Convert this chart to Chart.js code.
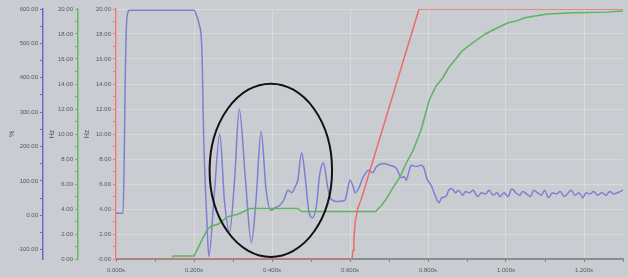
<!DOCTYPE html>
<html>
<head>
<meta charset="utf-8">
<script src="https://cdn.jsdelivr.net/npm/chart.js@4.4.1/dist/chart.umd.min.js"></script>
<style>
  html, body { margin: 0; padding: 0; background: #c9ccd0; }
  #wrap { width: 628px; height: 277px; }
</style>
</head>
<body>
<div id="wrap"><canvas id="c" width="628" height="277"></canvas></div>
<script>
// ---- tick values ----
const timeMajor = [0, 0.2, 0.4, 0.6, 0.8, 1.0, 1.2];
const timeMinor = [0.1, 0.3, 0.5, 0.7, 0.9, 1.1, 1.3];
const pctMajor = [-100, 0, 100, 200, 300, 400, 500, 600];
const pctMinor = [-50, 50, 150, 250, 350, 450, 550];
const hzMajor = [0, 2, 4, 6, 8, 10, 12, 14, 16, 18, 20];
const hzMinor = [1, 3, 5, 7, 9, 11, 13, 15, 17, 19];

// ---- blue series (Hz) ----
const blueTime = [0, 0.018, 0.021, 0.024, 0.028, 0.035, 0.200, 0.206, 0.213, 0.220, 0.225, 0.233, 0.238, 0.251, 0.266, 0.278, 0.291, 0.304, 0.316, 0.332, 0.347, 0.359, 0.372, 0.385, 0.397, 0.408, 0.420, 0.430, 0.441, 0.451, 0.458, 0.466, 0.476, 0.486, 0.494, 0.504, 0.514, 0.522, 0.532, 0.542, 0.549, 0.567, 0.587, 0.592, 0.600, 0.608, 0.613, 0.623, 0.633, 0.648, 0.658, 0.668, 0.686, 0.701, 0.719, 0.732, 0.739, 0.744, 0.752, 0.757, 0.770, 0.782, 0.790, 0.797, 0.808, 0.818, 0.828, 0.835, 0.846, 0.853,
  0.861, 0.871, 0.878, 0.889, 0.896, 0.906, 0.916, 0.927, 0.937, 0.947, 0.957, 0.967, 0.977, 0.985, 0.995, 1.005, 1.015, 1.025, 1.035, 1.043, 1.053, 1.063, 1.071, 1.081, 1.091, 1.099, 1.109, 1.119, 1.129, 1.139, 1.149, 1.157, 1.167, 1.177, 1.187, 1.197, 1.205, 1.215, 1.225, 1.235, 1.246, 1.256, 1.266, 1.276, 1.286, 1.300];
const blueHz = [3.67, 3.67, 8, 15, 19.3, 19.9, 19.9, 19.5, 18.8, 16.9, 9.5, 3.1, 0.2, 4.7, 10.0, 4.7, 2.15, 6.3, 12.0, 6.3, 1.3, 4.7, 10.2, 5.5, 3.9, 4.1, 4.3, 4.7, 5.5, 5.3, 5.7, 6.3, 8.5, 6.3, 3.9, 3.3, 4.3, 6.7, 7.7, 5.9, 4.9, 4.6, 4.7, 5.3, 6.3, 5.8, 5.3, 5.7, 6.5, 7.1, 6.9, 7.4, 7.65, 7.5, 7.25, 6.5, 6.6, 6.3, 7.1, 7.5, 7.4, 7.5, 7.25, 6.45, 5.9, 5.1, 4.5, 4.9, 5.0, 5.5,
  5.65, 5.3, 5.5, 5.1, 5.4, 5.3, 5.5, 5.0, 5.3, 5.2, 5.5, 5.1, 5.3, 5.0, 5.3, 5.0, 5.6, 5.3, 5.1, 5.4, 5.2, 5.0, 5.5, 5.3, 5.1, 5.5, 4.9, 5.3, 5.2, 5.4, 5.0, 5.2, 5.5, 5.1, 5.3, 4.9, 5.3, 5.2, 5.4, 5.1, 5.3, 5.1, 5.4, 5.2, 5.3, 5.5];

// ---- green series (Hz) ----
const greenTime = [0, 0.144, 0.147, 0.200, 0.233, 0.243, 0.263, 0.284, 0.314, 0.334, 0.344, 0.466, 0.476, 0.666, 0.681, 0.694, 0.709, 0.727, 0.744, 0.762, 0.782, 0.803, 0.820, 0.838, 0.853, 0.871, 0.886, 0.904, 0.924, 0.947, 0.972, 1.005, 1.028, 1.048, 1.106, 1.175, 1.258, 1.300];
const greenHz = [0, 0, 0.25, 0.25, 2.3, 2.6, 2.8, 3.35, 3.6, 3.9, 4.05, 4.05, 3.8, 3.8, 4.3, 4.85, 5.65, 6.5, 7.65, 8.7, 10.3, 12.7, 13.8, 14.5, 15.3, 16.0, 16.6, 17.05, 17.5, 18.0, 18.4, 18.9, 19.05, 19.3, 19.6, 19.7, 19.75, 19.85];

// ---- red series (Hz) ----
const redTime = [0, 0.605, 0.608, 0.610, 0.613, 0.620, 0.630, 0.777, 1.300];
const redHz = [0, 0, 0.7, 1.5, 2.9, 4.05, 4.9, 20, 20];

// ---- highlight ellipse (data units: time, Hz) ----
const ellipseCenter = [0.397, 7.1];
const ellipseRadius = [0.157, 6.93];

const toPts = (t, v) => t.map((x, i) => ({ x: x, y: v[i] }));
const FONT = { family: "'Liberation Sans', Arial, sans-serif", size: 6 };
const LABEL = '#555a60';
const GRID = '#d8dbde';

const ellipsePlugin = {
  id: 'ellipse',
  afterDatasetsDraw(chart) {
    const xs = chart.scales.x, ys = chart.scales.yRed;
    const cx = xs.getPixelForValue(ellipseCenter[0]);
    const cy = ys.getPixelForValue(ellipseCenter[1]);
    const rx = xs.getPixelForValue(ellipseCenter[0] + ellipseRadius[0]) - cx;
    const ry = cy - ys.getPixelForValue(ellipseCenter[1] + ellipseRadius[1]);
    const ctx = chart.ctx;
    ctx.save();
    ctx.beginPath();
    ctx.ellipse(cx, cy, rx, ry, 0, 0, Math.PI * 2);
    ctx.strokeStyle = '#111';
    ctx.lineWidth = 2;
    ctx.stroke();
    ctx.restore();
  }
};

function yAxis(opts) {
  return {
    type: 'linear',
    position: 'left',
    weight: opts.weight,
    min: opts.min,
    max: opts.max,
    afterFit: (s) => { s.width = opts.width; },
    afterBuildTicks: (s) => { s.ticks = opts.major.concat(opts.minor).sort((a, b) => a - b).map(v => ({ value: v })); },
    ticks: {
      autoSkip: false,
      padding: 2,
      color: LABEL,
      font: FONT,
      callback: (v) => opts.major.includes(v) ? v.toFixed(2) : ''
    },
    grid: {
      drawOnChartArea: opts.onChart,
      color: (ctx) => (ctx.tick && opts.major.includes(ctx.tick.value)) ? GRID : 'rgba(0,0,0,0)',
      tickColor: opts.color,
      tickLength: 3,
      lineWidth: 1
    },
    border: { display: true, color: opts.color, width: 1.5 },
    title: {
      display: true,
      text: opts.title,
      color: LABEL,
      font: { family: FONT.family, size: 7 },
      padding: { top: opts.titlePad, bottom: 0 }
    }
  };
}

new Chart(document.getElementById('c'), {
  type: 'line',
  data: {
    datasets: [
      { data: toPts(redTime, redHz), yAxisID: 'yRed', borderColor: '#ef6b6b', borderWidth: 1.5, pointRadius: 0, tension: 0 },
      { data: toPts(greenTime, greenHz), yAxisID: 'yRed', borderColor: '#5fb35f', borderWidth: 1.5, pointRadius: 0, tension: 0 },
      { data: toPts(blueTime, blueHz), yAxisID: 'yRed', borderColor: '#7c7fd2', borderWidth: 1.5, pointRadius: 0, cubicInterpolationMode: 'monotone' }
    ]
  },
  options: {
    responsive: false,
    animation: false,
    devicePixelRatio: 1,
    layout: { padding: { top: 9, right: 0, bottom: 0, left: 0 } },
    plugins: { legend: { display: false }, tooltip: { enabled: false } },
    scales: {
      x: {
        type: 'linear',
        min: 0,
        max: 1.3,
        afterFit: (s) => { s.height = 18; },
        afterBuildTicks: (s) => { s.ticks = timeMajor.concat(timeMinor).sort((a, b) => a - b).map(v => ({ value: v })); },
        ticks: {
          autoSkip: false,
          maxRotation: 0,
          padding: 5,
          color: LABEL,
          font: FONT,
          callback: (v) => timeMajor.includes(v) ? v.toFixed(3) + 's' : ''
        },
        grid: {
          color: (ctx) => (ctx.tick && timeMajor.includes(ctx.tick.value)) ? GRID : 'rgba(0,0,0,0)',
          tickColor: '#7d8186',
          tickLength: 3
        },
        border: { display: true, color: '#8a8e93', width: 2 }
      },
      yPct: yAxis({ weight: 2, min: -127, max: 600, width: 43, major: pctMajor, minor: pctMinor, color: '#6b6cc6', title: '%', onChart: false, titlePad: 8 }),
      yGreen: yAxis({ weight: 1, min: 0, max: 20, width: 35, major: hzMajor, minor: hzMinor, color: '#6db56d', title: 'Hz', onChart: false, titlePad: 5 }),
      yRed: yAxis({ weight: 0, min: 0, max: 20, width: 38, major: hzMajor, minor: hzMinor, color: '#ee7a7a', title: 'Hz', onChart: true, titlePad: 5 })
    }
  },
  plugins: [ellipsePlugin]
});
</script>
</body>
</html>
